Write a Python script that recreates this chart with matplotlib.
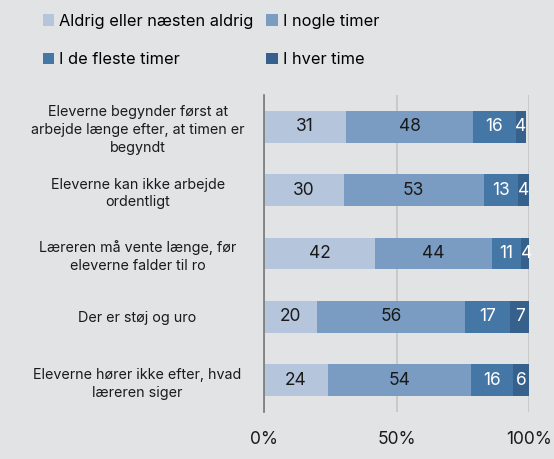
import numpy as np
import matplotlib.pyplot as plt

plt.rcParams['font.family'] = ['Inter', 'DejaVu Sans']

# Survey items (top to bottom) and answer shares in percent
items = [
    "Eleverne begynder først at\narbejde længe efter, at timen er\nbegyndt",
    "Eleverne kan ikke arbejde\nordentligt",
    "Læreren må vente længe, før\neleverne falder til ro",
    "Der er støj og uro",
    "Eleverne hører ikke efter, hvad\nlæreren siger",
]
series = ["Aldrig eller næsten aldrig", "I nogle timer", "I de fleste timer", "I hver time"]
aldrig = [31, 30, 42, 20, 24]
nogle = [48, 53, 44, 56, 54]
fleste = [16, 13, 11, 17, 16]
hver = [4, 4, 4, 7, 6]

colors = ["#b5c5dc", "#7a9cc2", "#4577a6", "#36618d"]
text_colors = ["#1a1a1a", "#1a1a1a", "white", "white"]
bg = "#e2e3e5"

fig = plt.figure(figsize=(5.54, 4.59), dpi=100, facecolor=bg)
ax = fig.add_axes([264 / 554, 1 - 412 / 459, (529 - 264) / 554, (412 - 95) / 459])
ax.set_facecolor(bg)

y = np.arange(len(items))
left = np.zeros(len(items))
for vals, name, c, tc in zip([aldrig, nogle, fleste, hver], series, colors, text_colors):
    vals = np.array(vals, dtype=float)
    ax.barh(y, vals, left=left, height=0.5, color=c, label=name, zorder=3)
    for yi, l, v in zip(y, left, vals):
        ax.text(l + v / 2, yi, f"{int(v)}", ha="center", va="center",
                fontsize=12.5, color=tc, zorder=4)
    left += vals

ax.set_xlim(0, 100)
ax.set_ylim(len(items) - 0.5, -0.5)
ax.set_xticks([0, 50, 100])
ax.set_xticklabels(["0%", "50%", "100%"], fontsize=12.5, color="#1a1a1a")
ax.set_yticks(y)
ax.set_yticklabels(items, fontsize=10.3, color="#1a1a1a", ha="center", linespacing=1.35)
ax.tick_params(axis="y", length=0, pad=91)
ax.tick_params(axis="x", length=0, pad=14)

for s in ["top", "right", "bottom"]:
    ax.spines[s].set_visible(False)
ax.spines["left"].set_color("#777777")
ax.spines["left"].set_linewidth(1.2)
ax.spines["left"].set_zorder(5)

ax.grid(axis="x", color="#c4c4c4", linewidth=1.2, zorder=0)

# legend entries filled row by row
handles, labels = ax.get_legend_handles_labels()
order = [0, 2, 1, 3]
fig.legend([handles[i] for i in order], [labels[i] for i in order],
           loc="upper left", bbox_to_anchor=(36 / 554, 1 - 7 / 459),
           ncol=2, frameon=False, fontsize=11.8, handlelength=0.7, handleheight=0.7,
           handletextpad=0.3, columnspacing=0.8, labelspacing=1.45, borderaxespad=0)

plt.savefig("out.png", dpi=100, facecolor=bg)
